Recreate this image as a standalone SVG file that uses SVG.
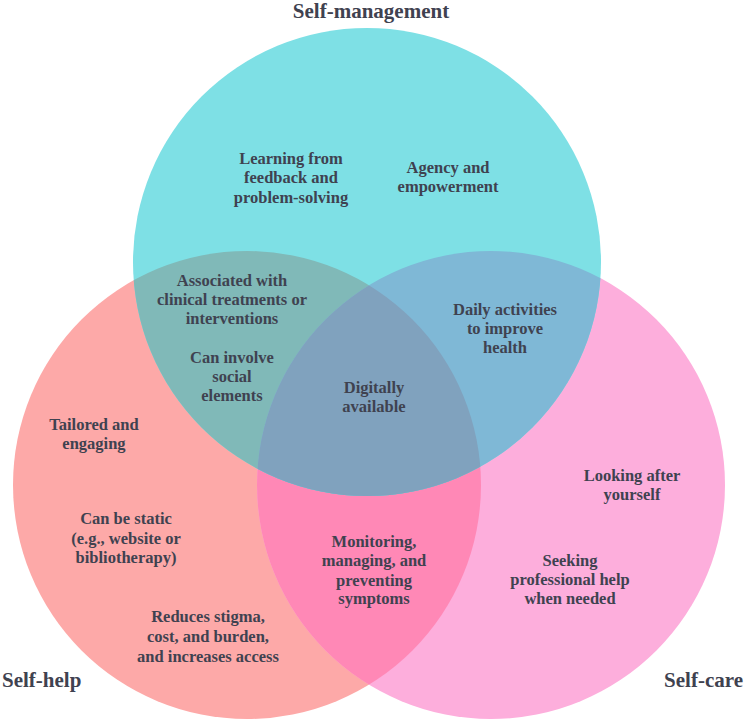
<svg xmlns="http://www.w3.org/2000/svg" width="746" height="723" viewBox="0 0 746 723">
<style>
text{font-family:"Liberation Serif","Times New Roman",serif;font-weight:bold;fill:#3f4250;text-anchor:middle}
.t{font-size:16.5px}
.h{font-size:21px}
</style>
<defs>
<clipPath id="cA"><circle cx="367" cy="262" r="234"/></clipPath>
<clipPath id="cB"><circle cx="247" cy="485" r="234"/></clipPath>
<clipPath id="cC"><circle cx="491" cy="485" r="234"/></clipPath>
</defs>
<rect width="746" height="723" fill="#ffffff"/>
<g id="circles">
<g id="self-help-circle"><circle cx="247" cy="485" r="234" fill="#fda9a8"/></g>
<g id="self-care-circle"><circle cx="491" cy="485" r="234" fill="#fdaedc"/></g>
<g clip-path="url(#cB)"><circle cx="491" cy="485" r="234" fill="#ff88b6"/></g>
<g id="self-management-circle"><circle cx="367" cy="262" r="234" fill="#7ee0e5"/></g>
<g clip-path="url(#cB)"><circle cx="367" cy="262" r="234" fill="#80b9b8"/></g>
<g clip-path="url(#cC)"><circle cx="367" cy="262" r="234" fill="#7fb8d6"/></g>
<g clip-path="url(#cC)"><g clip-path="url(#cB)"><circle cx="367" cy="262" r="234" fill="#80a2be"/></g></g>
</g>
<g id="labels">
<text class="h" x="371" y="18">Self-management</text>
<text class="h" x="2" y="687" style="text-anchor:start">Self-help</text>
<text class="h" x="743" y="687" style="text-anchor:end">Self-care</text>
</g>
<g id="n-learning"><text class="t" x="291" y="164">Learning from</text><text class="t" x="291" y="183">feedback and</text><text class="t" x="291" y="203">problem-solving</text></g>
<g id="n-agency"><text class="t" x="448" y="173">Agency and</text><text class="t" x="448" y="192">empowerment</text></g>
<g id="n-associated"><text class="t" x="232" y="286">Associated with</text><text class="t" x="232" y="305">clinical treatments or</text><text class="t" x="232" y="324">interventions</text></g>
<g id="n-social"><text class="t" x="232" y="363">Can involve</text><text class="t" x="232" y="382">social</text><text class="t" x="232" y="401">elements</text></g>
<g id="n-daily"><text class="t" x="505" y="315">Daily activities</text><text class="t" x="505" y="334">to improve</text><text class="t" x="505" y="353">health</text></g>
<g id="n-digital"><text class="t" x="374" y="393">Digitally</text><text class="t" x="374" y="412">available</text></g>
<g id="n-tailored"><text class="t" x="94" y="430">Tailored and</text><text class="t" x="94" y="449">engaging</text></g>
<g id="n-looking"><text class="t" x="632" y="481">Looking after</text><text class="t" x="632" y="500">yourself</text></g>
<g id="n-static"><text class="t" x="126" y="524">Can be static</text><text class="t" x="126" y="544">(e.g., website or</text><text class="t" x="126" y="563">bibliotherapy)</text></g>
<g id="n-monitoring"><text class="t" x="374" y="547">Monitoring,</text><text class="t" x="374" y="566">managing, and</text><text class="t" x="374" y="586">preventing</text><text class="t" x="374" y="604">symptoms</text></g>
<g id="n-seeking"><text class="t" x="570" y="566">Seeking</text><text class="t" x="570" y="585">professional help</text><text class="t" x="570" y="604">when needed</text></g>
<g id="n-reduces"><text class="t" x="208" y="622">Reduces stigma,</text><text class="t" x="208" y="642">cost, and burden,</text><text class="t" x="208" y="662">and increases access</text></g>
<g id="connectors"/>
</svg>
